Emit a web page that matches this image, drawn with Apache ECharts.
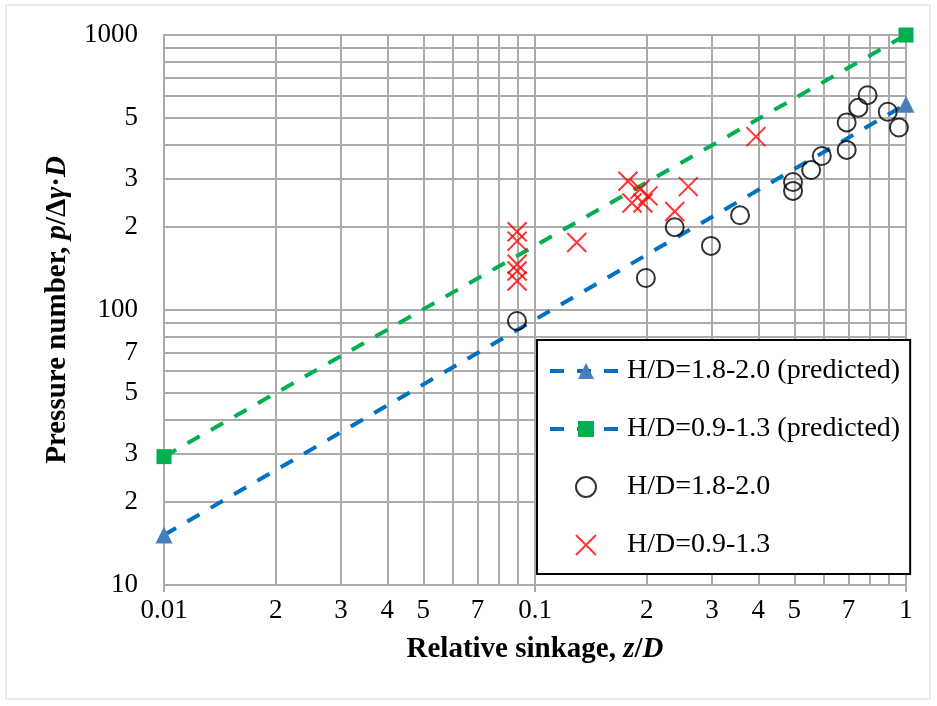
<!DOCTYPE html>
<html>
<head>
<meta charset="utf-8">
<script src="https://cdn.jsdelivr.net/npm/echarts@6/dist/echarts.min.js"></script>
<style>
html,body{margin:0;padding:0;background:#fff;}
#chart{width:937px;height:706px;}
</style>
</head>
<body>
<div id="chart"></div>
<script>
// ---- data ----
const predictedHigh = [[0.01, 15.2], [1, 560]];     // H/D=1.8-2.0 (predicted)
const predictedLow  = [[0.01, 29.3], [1, 1000]];    // H/D=0.9-1.3 (predicted)
const circlesX = [0.0894, 0.199, 0.238, 0.298, 0.357, 0.496, 0.496, 0.555, 0.593, 0.692, 0.692, 0.744, 0.788, 0.893, 0.957];
const circlesY = [91.2, 130.7, 200, 171, 221, 292, 271, 323, 363, 382, 481, 544, 604, 526, 461];
const crossesX = [0.0895, 0.0895, 0.0895, 0.0895, 0.0895, 0.1296, 0.178, 0.192, 0.2017, 0.1826, 0.1954, 0.238, 0.259, 0.394];
const crossesY = [192.6, 178, 146.6, 138.6, 127.4, 176, 294, 275, 260, 245, 245, 228, 281, 427];

const xMinorGrid = [0.02,0.03,0.04,0.05,0.06,0.07,0.08,0.09,0.2,0.3,0.4,0.5,0.6,0.7,0.8,0.9];
const yMinorGrid = [20,30,40,50,60,70,80,90,200,300,400,500,600,700,800,900];
const xMinorLabelValues = [0.02,0.03,0.04,0.05,0.07,0.2,0.3,0.4,0.5,0.7];
const xMinorLabelTexts  = ['2','3','4','5','7','2','3','4','5','7'];
const yMinorLabelValues = [20,30,50,70,200,300,500];
const yMinorLabelTexts  = ['2','3','5','7','2','3','5'];

const seriesNames = ['H/D=1.8-2.0 (predicted)', 'H/D=0.9-1.3 (predicted)', 'H/D=1.8-2.0', 'H/D=0.9-1.3'];

// ---- styles ----
const FONT = 'Liberation Serif';
const GRID = '#ababab';
const zip = (a, b) => a.map((v, i) => [v, b[i]]);

const gridLine = { color: GRID, width: 2, type: 'solid' };
const xLabelMap = {}; xMinorLabelValues.forEach((v,i)=>xLabelMap[v]=xMinorLabelTexts[i]);
const yLabelMap = {}; yMinorLabelValues.forEach((v,i)=>yLabelMap[v]=yMinorLabelTexts[i]);

const markData = [];
xMinorGrid.forEach(v => markData.push({
  xAxis: v,
  label: xLabelMap[v] ? { show: true, formatter: xLabelMap[v], position: 'start', distance: 12,
    color: '#000', fontFamily: FONT, fontSize: 27 } : { show: false }
}));
yMinorGrid.forEach(v => markData.push({
  yAxis: v,
  label: yLabelMap[v] ? { show: true, formatter: yLabelMap[v], position: 'start', distance: 26,
    color: '#000', fontFamily: FONT, fontSize: 27 } : { show: false }
}));

const dash = [14, 13];

const chart = echarts.init(document.getElementById('chart'), null, { renderer: 'canvas' });
chart.setOption({
  animation: false,
  backgroundColor: '#fff',
  graphic: [{
    type: 'rect', shape: { x: 6, y: 5, width: 924, height: 694 },
    style: { fill: 'none', stroke: '#d9d9d9', lineWidth: 1 }, silent: true, z: -10
  }],
  grid: { left: 164, right: 31, top: 35, bottom: 121, containLabel: false },
  xAxis: {
    type: 'log', logBase: 10, min: 0.01, max: 1,
    name: '{b|Relative sinkage, }{bi|z}{b|/}{bi|D}',
    nameLocation: 'middle', nameGap: 50,
    nameTextStyle: { rich: {
      b: { fontFamily: FONT, fontWeight: 'bold', fontSize: 29, color: '#000' },
      bi: { fontFamily: FONT, fontWeight: 'bold', fontStyle: 'italic', fontSize: 29, color: '#000' }
    }},
    axisLine: { show: true, lineStyle: { color: GRID, width: 2 } },
    axisTick: { show: true, inside: false, length: 7, lineStyle: { color: GRID, width: 2 } },
    axisLabel: { color: '#000', fontFamily: FONT, fontSize: 27, margin: 12,
      formatter: v => String(+v.toPrecision(3)) },
    splitLine: { show: true, lineStyle: gridLine }
  },
  yAxis: {
    type: 'log', logBase: 10, min: 10, max: 1000,
    name: '{b|Pressure number, }{bi|p}{b|/Δ}{bi|γ}{b|·}{bi|D}',
    nameLocation: 'middle', nameGap: 92, nameRotate: 90,
    nameTextStyle: { rich: {
      b: { fontFamily: FONT, fontWeight: 'bold', fontSize: 29, color: '#000' },
      bi: { fontFamily: FONT, fontWeight: 'bold', fontStyle: 'italic', fontSize: 29, color: '#000' }
    }},
    axisLine: { show: true, lineStyle: { color: GRID, width: 2 } },
    axisTick: { show: false },
    axisLabel: { color: '#000', fontFamily: FONT, fontSize: 27, margin: 26,
      formatter: v => String(Math.round(v)) },
    splitLine: { show: true, lineStyle: gridLine }
  },
  legend: {
    orient: 'vertical', left: 537, top: 340, z: 50, zlevel: 1,
    backgroundColor: '#fff', borderColor: '#000', borderWidth: 2,
    padding: [17, 10, 15, 11],
    itemWidth: 72, itemHeight: 20, itemGap: 30,
    textStyle: { fontFamily: FONT, fontSize: 28, color: '#000' },
    data: [
      { name: seriesNames[0], lineStyle: { width: 4, type: dash } },
      { name: seriesNames[1], lineStyle: { color: '#0070C0', width: 4, type: dash } },
      { name: seriesNames[2] },
      { name: seriesNames[3] }
    ]
  },
  series: [
    {
      type: 'line', silent: true, z: 1, data: [],
      markLine: { silent: true, symbol: ['none', 'none'], animation: false,
        lineStyle: gridLine, emphasis: { disabled: true }, data: markData }
    },
    {
      name: seriesNames[0], type: 'line', data: predictedHigh, z: 5,
      symbol: 'triangle', symbolSize: 17, showAllSymbol: true,
      itemStyle: { color: '#4A7EBB' },
      lineStyle: { color: '#0070C0', width: 4, type: dash }
    },
    {
      name: seriesNames[1], type: 'line', data: predictedLow, z: 5,
      symbol: 'rect', symbolSize: 15,
      itemStyle: { color: '#00B050' },
      lineStyle: { color: '#00B050', width: 4, type: dash }
    },
    {
      name: seriesNames[2], type: 'scatter', data: zip(circlesX, circlesY), z: 6,
      symbol: 'circle', symbolSize: 18,
      itemStyle: { color: 'rgba(0,0,0,0)', borderColor: '#000', borderWidth: 2 }
    },
    {
      name: seriesNames[3], type: 'scatter', data: zip(crossesX, crossesY), z: 6,
      symbol: 'path://M0,0L10,10M10,0L0,10', symbolSize: 19, symbolKeepAspect: true,
      itemStyle: { color: 'rgba(0,0,0,0)', borderColor: '#FF0000', borderWidth: 2 }
    }
  ]
});
</script>
</body>
</html>
